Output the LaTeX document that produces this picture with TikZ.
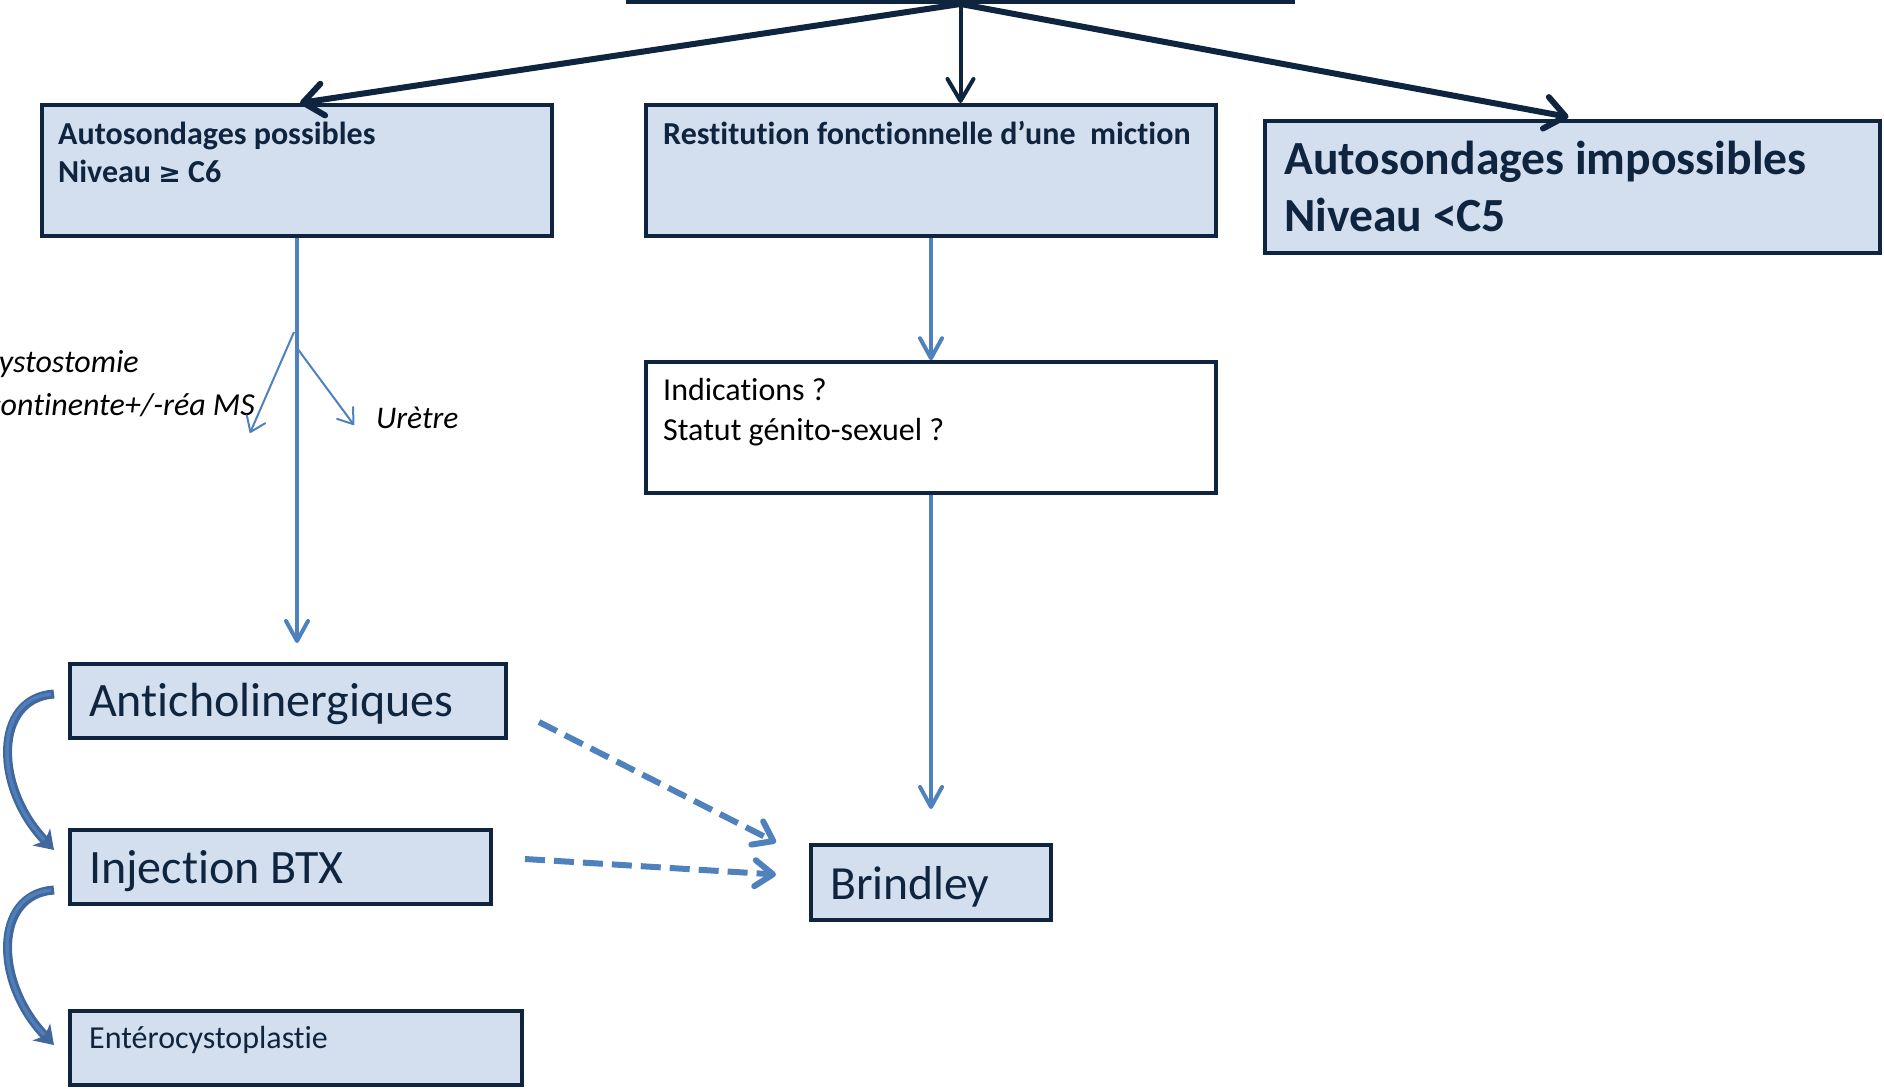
\documentclass[tikz,border=0pt]{standalone}
\usepackage{fontspec}
\setmainfont{Carlito}[Ligatures={NoCommon}, Contextuals={NoAlternate}, RawFeature={-liga;-clig;-dlig}]
\newfontfamily\symfont{DejaVu Sans}
\usetikzlibrary{arrows.meta,calc}
\definecolor{navy}{HTML}{0F243E}
\definecolor{steel}{HTML}{4F81BD}
\definecolor{boxfill}{HTML}{D3DFEE}
\definecolor{bendblue}{HTML}{41679C}
\definecolor{bendlight}{HTML}{4F7FBA}
\newcommand\fsz[1]{\fontsize{#1}{#1}\selectfont}
\begin{document}
\begin{tikzpicture}[x=1pt,y=-1pt,
  box/.style={draw=navy, line width=4pt, fill=boxfill, inner sep=0pt},
  plainbox/.style={draw=navy, line width=3.5pt, fill=white, inner sep=0pt},
  txt/.style={anchor=base west, inner sep=0pt, text=navy},
  note/.style={anchor=base east, inner sep=0pt, text=black, font=\fsz{32}\itshape},
  darkthick/.style={draw=navy, line width=6pt, -{Straight Barb[length=20pt,width=32pt,round]}},
  darkthin/.style={draw=navy, line width=4pt, -{Straight Barb[length=22pt,width=26pt,round]}},
  bluearrow/.style={draw=steel, line width=4pt, -{Straight Barb[length=20pt,width=22pt,round]}},
  branch/.style={draw=steel, line width=2pt, -{Straight Barb[length=14pt,width=20pt,round]}},
  dasharrow/.style={draw=steel, line width=6pt, dash pattern=on 20pt off 9pt,
    -{Straight Barb[length=18pt,width=26pt,round]}},
  bendarrow/.style={draw=bendblue, line width=9pt,
    -{Stealth[length=18pt,width=24pt,inset=5pt]}},
  bendshine/.style={draw=bendlight, line width=3.5pt, shorten <=3pt, shorten >=14pt}]
\useasboundingbox (0,0) rectangle (1884,1089);

% boxes
\node[box, minimum width=665pt, minimum height=62pt] (top) at (960.5,-29) {};
\node[box, minimum width=510pt, minimum height=131pt] (possible) at (297,170.5) {};
\node[box, minimum width=570pt, minimum height=131pt] (restit) at (931,170.5) {};
\node[box, minimum width=615pt, minimum height=132pt] (impossible) at (1572.5,187) {};
\node[plainbox, minimum width=570pt, minimum height=131pt] (indic) at (931,427.5) {};
\node[box, minimum width=436pt, minimum height=74pt] (anti) at (288,701) {};
\node[box, minimum width=421pt, minimum height=74pt] (btx) at (280.5,867) {};
\node[box, minimum width=452pt, minimum height=74pt] (entero) at (296,1048) {};
\node[box, minimum width=240pt, minimum height=75pt] (brindley) at (931,882.5) {};

% texts
\node[txt, font=\fsz{32}\bfseries] (possibleA) at (58,144) {Autosondages possibles};
\node[txt, font=\fsz{32}\bfseries] (possibleB) at (58,182) {Niveau {\symfont\fsz{27}≥} C6};
\node[txt, font=\fsz{32}\bfseries] (restitA) at (663,144) {Restitution fonctionnelle d’une\ \ miction};
\node[txt, font=\fsz{47.6}\bfseries] (impossibleA) at (1284,174) {Autosondages impossibles};
\node[txt, font=\fsz{47.6}\bfseries] (impossibleB) at (1284,231) {Niveau <C5};
\node[txt, text=black, font=\fsz{32}] (indicA) at (663,400) {Indications ?};
\node[txt, text=black, font=\fsz{32}] (indicB) at (663,440) {Statut génito-sexuel ?};
\node[txt, font=\fsz{48}] (antiT) at (89,716) {Anticholinergiques};
\node[txt, font=\fsz{48}] (btxT) at (89,883) {Injection BTX};
\node[txt, font=\fsz{32}] (enteroT) at (89,1048) {Entérocystoplastie};
\node[txt, font=\fsz{47.6}] (brindleyT) at (830,899) {Brindley};
\node[note] (cystoA) at (139,372) {Cystostomie};
\node[note] (cystoB) at (255,415) {continente+/-réa MS};
\node[note, anchor=base west, font=\fsz{31.5}\itshape] (uretre) at (376,428) {Urètre};

% dark connectors from the top box
\draw[darkthick] (top.south) -- ([xshift=3pt]possible.north);
\draw[darkthin] (top.south) -- (top.south |- restit.north);
\draw[darkthick] (top.south) -- ([xshift=-4pt,yshift=2pt]impossible.north);

% blue connectors
\draw[bluearrow, shorten >=19pt] (possible.south) -- (possible.south |- anti.north);
\coordinate (brL) at (294,332);
\coordinate (brLend) at (250,433);
\coordinate (brR) at (297,348);
\coordinate (brRend) at (354,425);
\draw[branch] (brL) -- (brLend);
\draw[branch] (brR) -- (brRend);
\draw[bluearrow] (restit.south) -- (indic.north);
\draw[bluearrow, shorten >=34pt] (indic.south) -- (brindley.north);

% dashed connectors to Brindley
\draw[dasharrow] ([xshift=31pt,yshift=-21pt]anti.east) -- ([xshift=-33pt,yshift=40pt]brindley.west);
\draw[dasharrow] ([xshift=32pt,yshift=8pt]btx.east) -- ([xshift=-33pt,yshift=8pt]brindley.west);

% curved step-up arrows on the left
\foreach \from/\fy/\to/\ty in {anti/7/btx/17, btx/-23/entero/3} {
  \draw[bendarrow] ([xshift=-14pt,yshift=\fy pt]\from.west)
    .. controls +(-61,4) and +(-60,-62) .. ([xshift=-14pt,yshift=\ty pt]\to.west);
  \draw[bendshine] ([xshift=-14pt,yshift=\fy pt]\from.west)
    .. controls +(-61,4) and +(-60,-62) .. ([xshift=-14pt,yshift=\ty pt]\to.west);
}
\end{tikzpicture}
\end{document}
